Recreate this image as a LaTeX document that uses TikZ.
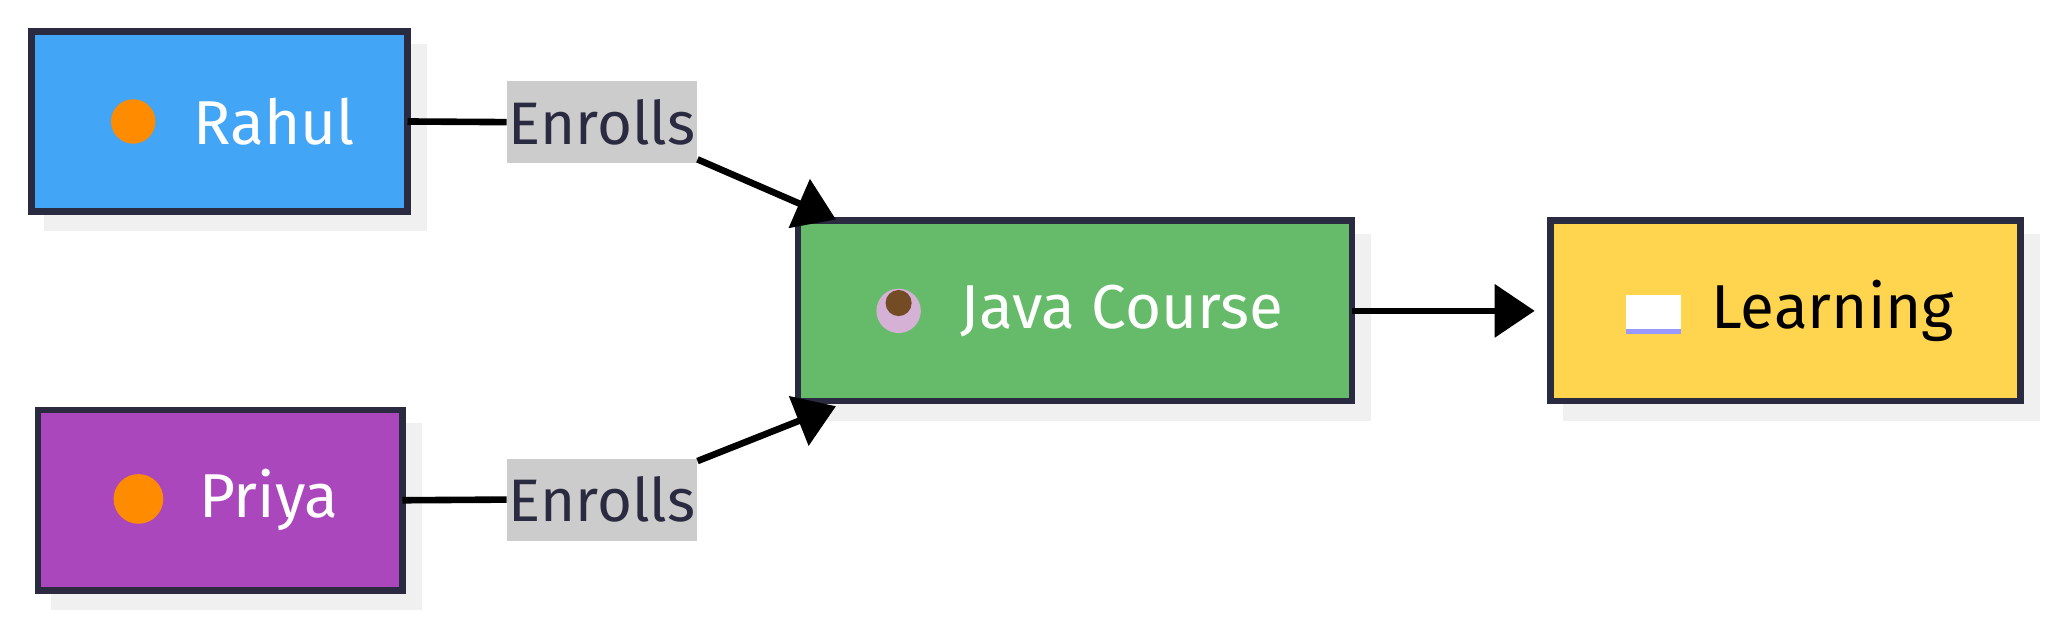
\documentclass[tikz,border=0pt]{standalone}
\usepackage{fontspec}
\setmainfont{Fira Sans}
\usetikzlibrary{arrows.meta}
\definecolor{bd}{HTML}{2A2A40}
\begin{document}
\begin{tikzpicture}[x=0.653pt,y=-0.653pt,
 box/.style={draw=bd,line width=3.3pt,inner sep=0pt},
 shad/.style={fill=black!6,draw=none},
 lbl/.style={fill=black!20,text=bd,font=\fontsize{30}{36}\selectfont,minimum width=95pt,minimum height=41pt,inner sep=0pt},
 txt/.style={font=\fontsize{31}{36}\selectfont},
 edge/.style={line width=3.3pt},
 arr/.style={edge,-{Triangle[length=20pt,width=26pt]}}]
\useasboundingbox (0,0) rectangle (1568,477);
% shadows
\fill[shad] (34,34) rectangle (327,177);
\fill[shad] (39,324) rectangle (323,467);
\fill[shad] (621,179) rectangle (1050,322);
\fill[shad] (1197,179) rectangle (1562,322);
% boxes
\draw[box,fill={rgb,255:red,66;green,165;blue,245}] (24,24) rectangle (312,162);
\draw[box,fill={rgb,255:red,171;green,71;blue,188}] (29,314) rectangle (308,452);
\draw[box,fill={rgb,255:red,102;green,187;blue,106}] (611,169) rectangle (1035,307);
\draw[box,fill={rgb,255:red,255;green,213;blue,79}] (1187,169) rectangle (1547,307);
\coordinate (rR) at (312,93); \coordinate (pR) at (308,383);
\coordinate (jL1) at (640,168); \coordinate (jL2) at (640,311);
\coordinate (jR) at (1035,238); \coordinate (lL) at (1175,238);
% icons
\fill[orange!90!yellow] (102,93) circle (17);
\fill[orange!90!yellow] (106,382) circle (19);
\fill[black!10!violet!30] (688,238) circle (17);
\fill[brown!60!black] (688,232) circle (10);
\fill[white] (1245,226) rectangle (1287,252);
\fill[blue!40] (1245,252) rectangle (1287,256);
% texts
\node[txt,text=white,anchor=west] (rahul) at (143,93) {Rahul};
\node[txt,text=white,anchor=west] (priya) at (147,383) {Priya};
\node[txt,text=white,anchor=west] (java) at (730,238) {Java Course};
\node[txt,text=black,anchor=west] (learn) at (1305,238) {Learning};
\node[lbl] (e1) at (461,93.5) {Enrolls};
\node[lbl] (e2) at (461,382.5) {Enrolls};
% edges
\draw[edge] (rR) -- (e1.west);
\draw[arr] (534,122) -- (jL1);
\draw[edge] (pR) -- (e2.west);
\draw[arr] (534,353) -- (jL2);
\draw[arr] (jR) -- (lL);
\end{tikzpicture}
\end{document}
